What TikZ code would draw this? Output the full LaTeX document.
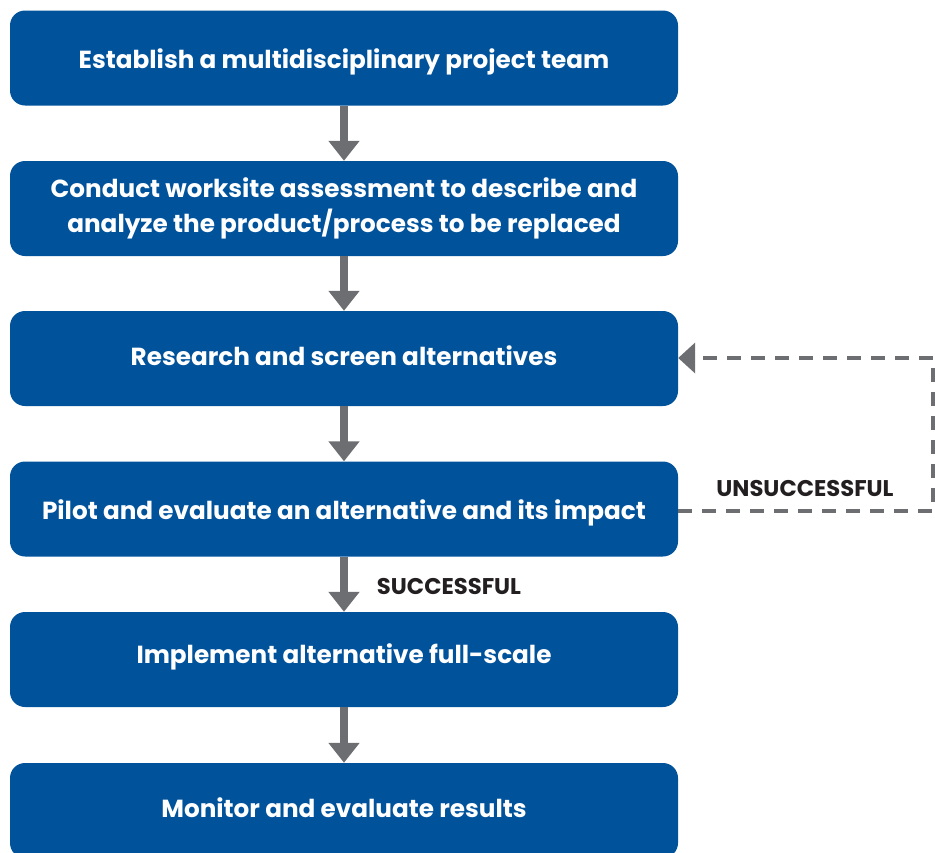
\documentclass[tikz,border=0pt]{standalone}
\usepackage{fontspec}
\setmainfont{Poppins}
\usetikzlibrary{arrows.meta}
\definecolor{boxblue}{RGB}{0,82,155}
\definecolor{arrgray}{RGB}{109,110,113}
\definecolor{labtxt}{RGB}{35,31,32}
\tikzset{
  stepbox/.style={fill=boxblue, rounded corners=15pt, minimum width=668pt, minimum height=95pt, inner sep=0pt},
  steptext/.style={text=white, align=center, anchor=base, inner sep=0pt,
    font=\fontsize{24.7}{35}\selectfont\bfseries},
  flowarrow/.style={draw=arrgray, line width=8pt, -{Triangle[width=30pt,length=20pt]}},
  looparrow/.style={draw=arrgray, line width=4pt, dash pattern=on 14pt off 10pt, -{Triangle[width=30pt,length=17pt]}},
  lab/.style={text=labtxt, anchor=base, inner sep=0pt, font=\fontsize{22.7}{24}\selectfont\bfseries}
}
\begin{document}
\begin{tikzpicture}[x=1pt,y=-1pt]
\useasboundingbox (0,0) rectangle (935,852);
\clip (0,0) rectangle (935,852);
\node[stepbox] (b1) at (344,58) {};
\node[stepbox] (b2) at (344,208.5) {};
\node[stepbox] (b3) at (344,358.5) {};
\node[stepbox] (b4) at (344,509) {};
\node[stepbox] (b5) at (344,659.5) {};
\node[stepbox] (b6) at (344,810.5) {};
\node[steptext] (t1) at ([yshift=-10pt]b1.center) {Establish a multidisciplinary project team};
\node[steptext] (t2) at ([yshift=-23.5pt]b2.center) {Conduct worksite assessment to describe and\\analyze the product/process to be replaced};
\node[steptext] (t3) at ([yshift=-7pt]b3.center) {Research and screen alternatives};
\node[steptext] (t4) at ([yshift=-10.5pt]b4.center) {Pilot and evaluate an alternative and its impact};
\node[steptext] (t5) at ([yshift=-4pt]b5.center) {Implement alternative full-scale};
\node[steptext] (t6) at ([yshift=-7pt]b6.center) {Monitor and evaluate results};
\draw[flowarrow] (b1.south) -- (b2.north);
\draw[flowarrow] (b2.south) -- (b3.north);
\draw[flowarrow] (b3.south) -- (b4.north);
\draw[flowarrow] (b4.south) -- (b5.north);
\draw[flowarrow] (b5.south) -- (b6.north);
\coordinate (r4) at (933,511);
\coordinate (r3) at (933,358);
\draw[looparrow] ([yshift=-2pt]b4.east) -- (r4) -- (r3) -- ([yshift=0.5pt]b3.east);
\node[lab] (uns) at (805,496.5) {UNSUCCESSFUL};
\node[lab] (suc) at (449,594) {SUCCESSFUL};
\end{tikzpicture}
\end{document}
